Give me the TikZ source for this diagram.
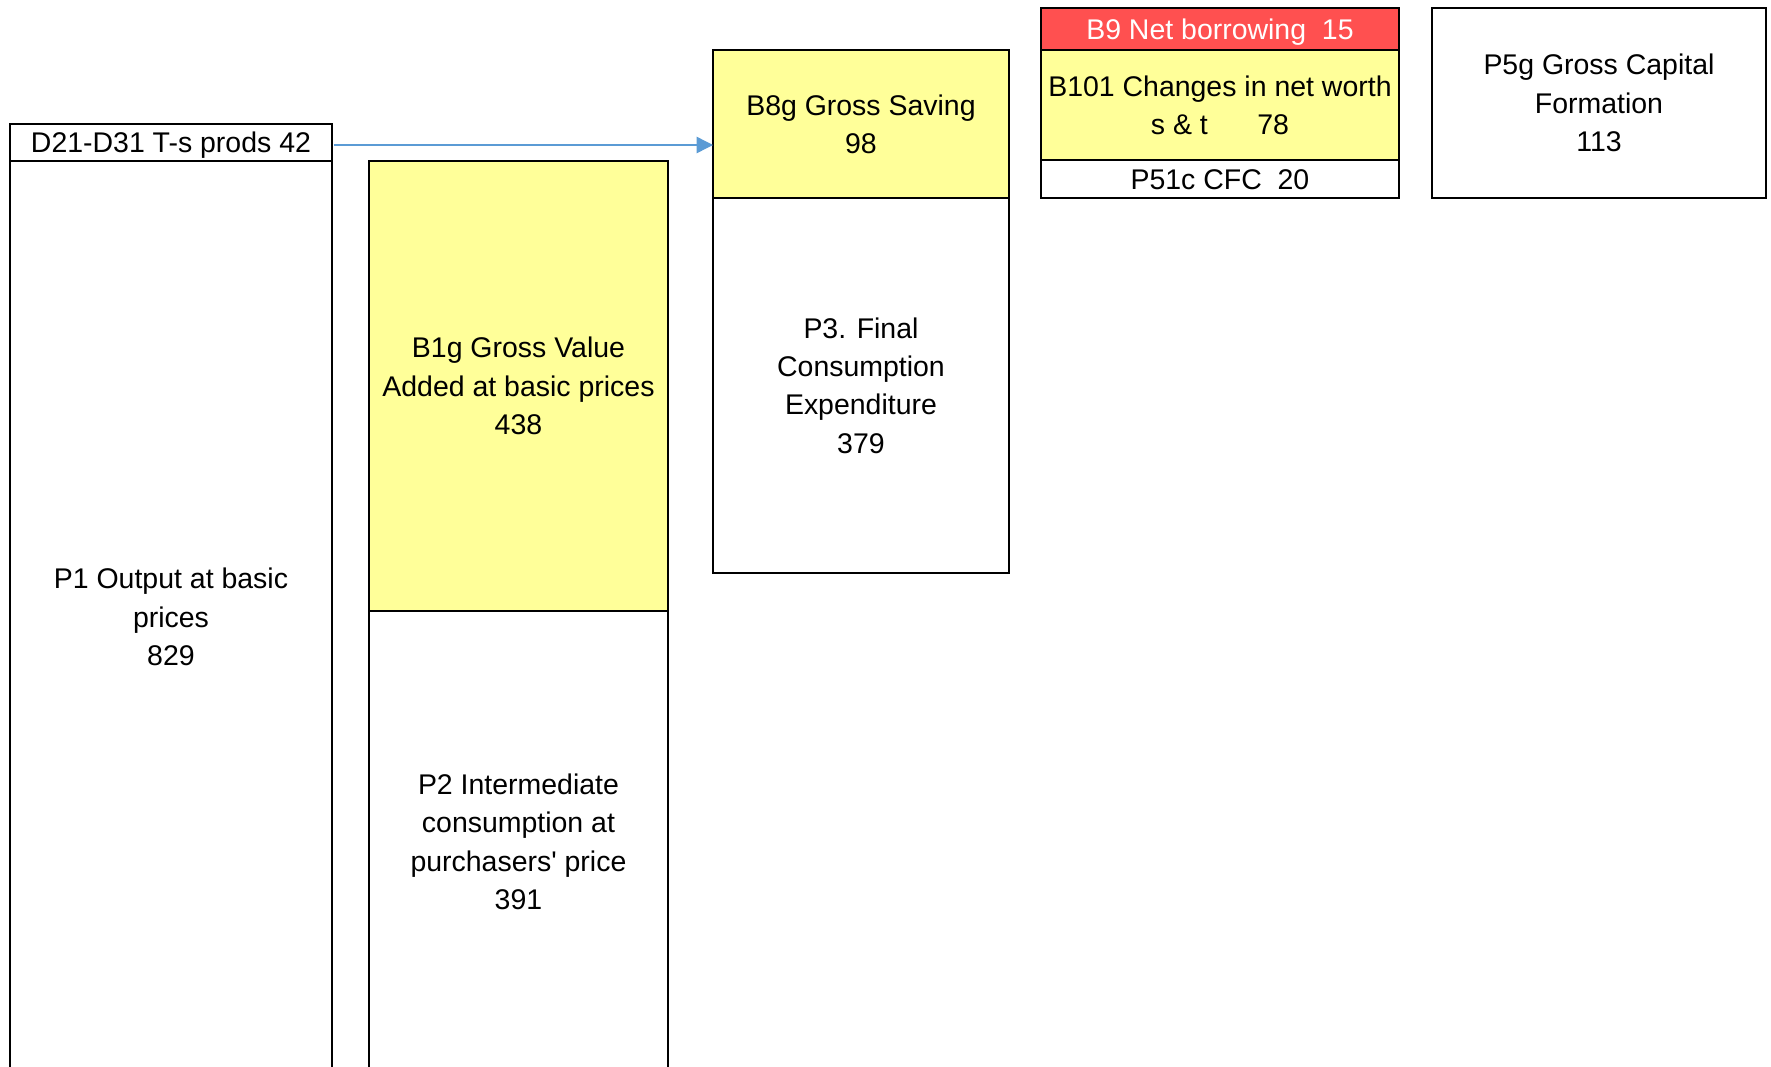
\documentclass[tikz,border=0pt]{standalone}
\usepackage{fontspec}
\setmainfont{Liberation Sans}
\usetikzlibrary{positioning,arrows.meta}
\definecolor{cellyellow}{RGB}{255,255,153}
\definecolor{cellred}{RGB}{255,80,80}
\definecolor{flowblue}{RGB}{91,155,213}

\begin{document}
\begin{tikzpicture}[x=0.02cm,y=-0.02cm,
  cell/.style={draw,line width=1.1pt,inner sep=0pt,outer sep=0pt,align=center,
    font=\fontsize{16.2}{21.8}\selectfont},
  linecell/.style={cell,text height=11.6pt,text depth=0pt},
  yellowcell/.style={cell,fill=cellyellow},
  redcell/.style={linecell,fill=cellred,text=white}]
  \useasboundingbox (0,0) rectangle (1771,1066);

  % uses side
  \node[linecell,anchor=north west,minimum width=6.44cm,minimum height=0.74cm] (d21) at (10,124) {D21-D31 T-s prods 42};
  \node[cell,below=0pt of d21,minimum width=6.44cm,minimum height=18.24cm] (p1) {P1 Output at basic\\prices\\829};

  \node[yellowcell,anchor=north west,minimum width=5.98cm,minimum height=9cm] (b1g) at (369,161) {B1g Gross Value\\Added at basic prices\\438};
  \node[cell,below=0pt of b1g,minimum width=5.98cm,minimum height=9.24cm] (p2) {P2 Intermediate\\consumption at\\purchasers\textquotesingle{} price\\391};

  \node[yellowcell,anchor=north west,minimum width=5.92cm,minimum height=2.96cm] (b8g) at (713,50) {B8g Gross Saving\\98};
  \node[cell,below=0pt of b8g,minimum width=5.92cm,minimum height=7.5cm] (p3) {P3. Final\\Consumption\\Expenditure\\379};

  % capital account
  \node[redcell,anchor=north west,minimum width=7.16cm,minimum height=0.84cm] (b9) at (1041,8) {B9 Net borrowing~~15};
  \node[yellowcell,below=0pt of b9,minimum width=7.16cm,minimum height=2.2cm] (b101) {B101 Changes in net worth\\s \& t\hspace{0.99cm}78};
  \node[linecell,below=0pt of b101,minimum width=7.16cm,minimum height=0.76cm] (p51c) {P51c CFC~~20};

  \node[cell,anchor=north west,minimum width=6.68cm,minimum height=3.8cm] (p5g) at (1432,8) {P5g Gross Capital\\Formation\\113};

  \coordinate (flow) at ([xshift=0.04cm,yshift=-0.05cm]d21.east);
  \draw[flowblue,line width=0.8pt,-{Triangle[length=0.33cm,width=0.33cm]}] (flow) -- (flow -| b8g.west);
\end{tikzpicture}
\end{document}
